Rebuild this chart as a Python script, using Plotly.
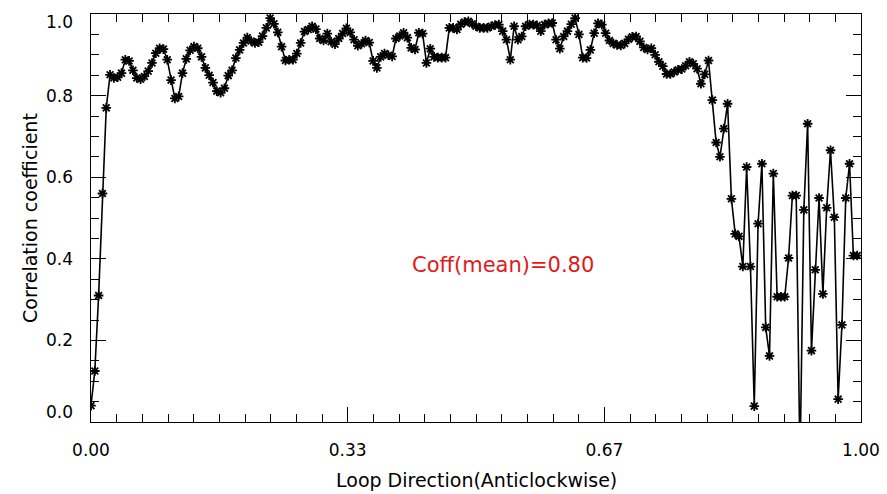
import numpy as np
import plotly.graph_objects as go

# Correlation coefficient along the loop (202 evenly spaced positions)
corr = [
    0.040, 0.125, 0.310, 0.560, 0.770, 0.851, 0.843, 0.845, 0.855, 0.888,
    0.885, 0.862, 0.843, 0.840, 0.847, 0.860, 0.880, 0.904, 0.916, 0.914,
    0.888, 0.838, 0.793, 0.798, 0.855, 0.890, 0.911, 0.920, 0.916, 0.895,
    0.868, 0.850, 0.832, 0.811, 0.807, 0.818, 0.849, 0.862, 0.892, 0.912,
    0.929, 0.942, 0.934, 0.929, 0.931, 0.946, 0.966, 0.990, 0.976, 0.955,
    0.920, 0.886, 0.888, 0.888, 0.903, 0.929, 0.957, 0.962, 0.970, 0.963,
    0.940, 0.935, 0.952, 0.932, 0.926, 0.940, 0.952, 0.965, 0.955, 0.937,
    0.922, 0.927, 0.935, 0.930, 0.885, 0.868, 0.895, 0.903, 0.899, 0.896,
    0.940, 0.946, 0.954, 0.942, 0.917, 0.913, 0.954, 0.952, 0.880, 0.915,
    0.895, 0.893, 0.893, 0.893, 0.966, 0.966, 0.962, 0.975, 0.980, 0.982,
    0.976, 0.970, 0.966, 0.966, 0.966, 0.970, 0.973, 0.974, 0.958, 0.937,
    0.888, 0.970, 0.937, 0.945, 0.970, 0.974, 0.974, 0.972, 0.958, 0.974,
    0.977, 0.978, 0.937, 0.915, 0.945, 0.958, 0.975, 0.990, 0.950, 0.893,
    0.892, 0.912, 0.953, 0.977, 0.974, 0.953, 0.935, 0.928, 0.924, 0.923,
    0.928, 0.938, 0.944, 0.945, 0.933, 0.918, 0.913, 0.916, 0.900, 0.883,
    0.872, 0.853, 0.853, 0.858, 0.863, 0.865, 0.873, 0.883, 0.878, 0.866,
    0.829, 0.852, 0.886, 0.789, 0.685, 0.650, 0.719, 0.780, 0.547, 0.461,
    0.455, 0.381, 0.625, 0.381, 0.039, 0.486, 0.633, 0.232, 0.162, 0.609,
    0.307, 0.307, 0.307, 0.402, 0.555, 0.555, -0.100, 0.520, 0.731, 0.175,
    0.373, 0.549, 0.314, 0.525, 0.666, 0.502, 0.056, 0.238, 0.549, 0.633,
    0.408, 0.408,
]
n_points = len(corr)
loop_pos = [i / n_points for i in range(n_points)]

x_tickvals = [0, 1 / 3, 2 / 3, 1]
x_ticktext = ["0.00", "0.33", "0.67", "1.00"]
y_tickvals = [0.0, 0.2, 0.4, 0.6, 0.8, 1.0]
y_ticktext = ["0.0", "0.2", "0.4", "0.6", "0.8", "1.0"]
mean_label = "Coff(mean)=0.80"
x_title = "Loop Direction(Anticlockwise)"
y_title = "Correlation coefficient"

FONT = "DejaVu Sans"
W, H = 887, 494
ML, MR, MT, MB = 91, 26, 14, 72
PW, PH = W - ML - MR, H - MT - MB

fig = go.Figure()
fig.add_trace(go.Scatter(
    x=loop_pos, y=corr, mode="lines+markers",
    line=dict(color="black", width=1.6),
    marker=dict(symbol="asterisk", size=8, color="black",
                line=dict(color="black", width=1.8)),
    showlegend=False,
))

annotations = []
for v, t in zip(y_tickvals, y_ticktext):
    shift = 0
    if v == 0.0:
        shift = 10
    elif v == 1.0:
        shift = -8
    annotations.append(dict(
        x=0, xref="paper", y=v, yref="y", text=t, showarrow=False,
        xanchor="right", yanchor="middle", xshift=-16, yshift=shift,
        font=dict(family=FONT, size=17, color="black")))
annotations.append(dict(
    x=0.535, y=0.385, xref="x", yref="y", text=mean_label, showarrow=False,
    font=dict(family=FONT, size=21, color="rgb(225,25,25)")))
annotations.append(dict(
    x=(30 - ML) / PW, xref="paper", y=0.5, yref="paper",
    text=y_title, showarrow=False, textangle=-90,
    xanchor="center", yanchor="middle",
    font=dict(family=FONT, size=19, color="black")))
annotations.append(dict(
    x=0.5, xref="paper", y=-(480 - (MT + PH)) / PH, yref="paper",
    text=x_title, showarrow=False, xanchor="center", yanchor="middle",
    font=dict(family=FONT, size=19, color="black")))

fig.update_layout(
    width=W, height=H,
    margin=dict(l=ML, r=MR, t=MT, b=MB, autoexpand=False),
    paper_bgcolor="white", plot_bgcolor="white",
    font=dict(family=FONT, size=17, color="black"),
    annotations=annotations,
    xaxis=dict(
        range=[0, 1], tickvals=x_tickvals, ticktext=x_ticktext,
        ticks="inside", ticklen=15, tickwidth=1, tickcolor="black",
        showline=True, linecolor="black", linewidth=1, mirror="ticks",
        showgrid=False, zeroline=False, ticklabelstandoff=13,
        automargin=False,
        tickfont=dict(family=FONT, size=17),
        minor=dict(dtick=1 / 30, tick0=0, ticks="inside", ticklen=8,
                   tickcolor="black", tickwidth=1, showgrid=False),
    ),
    yaxis=dict(
        range=[0, 1], tickvals=y_tickvals, showticklabels=False,
        ticks="inside", ticklen=15, tickwidth=1, tickcolor="black",
        showline=True, linecolor="black", linewidth=1, mirror="ticks",
        showgrid=False, zeroline=False, automargin=False,
        minor=dict(dtick=0.05, tick0=0, ticks="inside", ticklen=8,
                   tickcolor="black", tickwidth=1, showgrid=False),
    ),
)

fig.write_html("out.html")
